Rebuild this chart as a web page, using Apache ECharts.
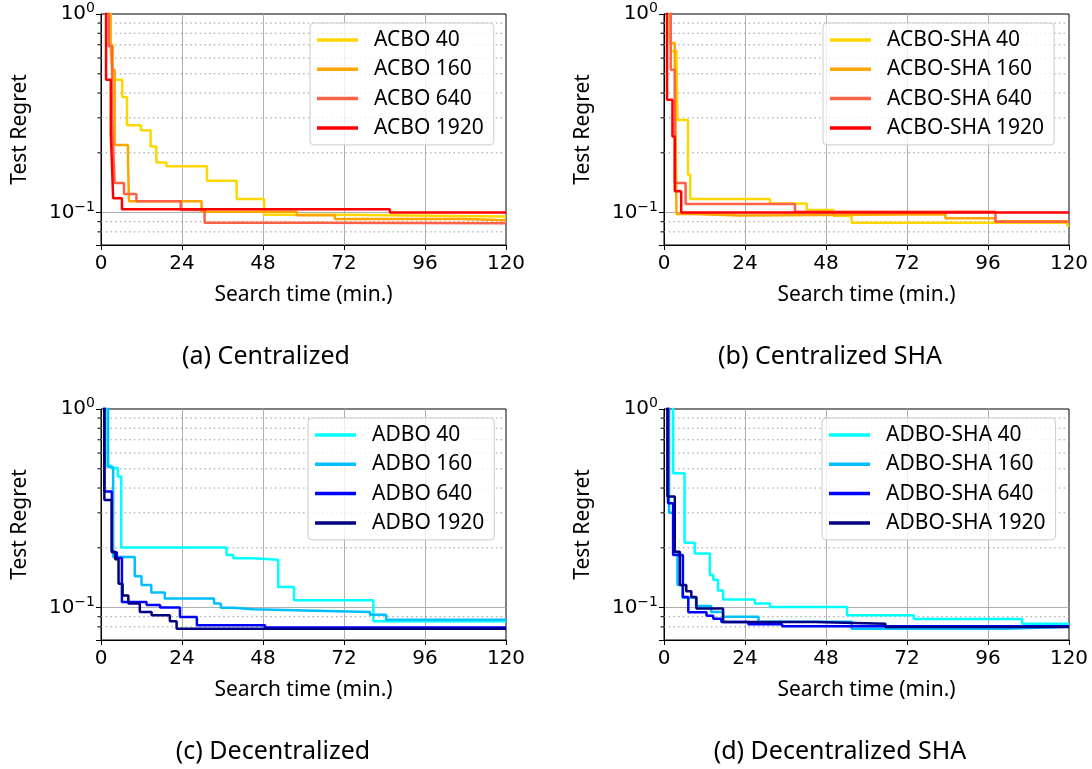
<!DOCTYPE html>
<html>
<head>
<meta charset="utf-8">
<script src="https://cdn.jsdelivr.net/npm/echarts@6/dist/echarts.min.js"></script>
<style>
html, body { margin: 0; padding: 0; background: #fff; }
#main { width: 1092px; height: 769px; }
</style>
</head>
<body>
<div id="main"></div>
<script>
// 坐标轴刻度
const xTicks = [0, 24, 48, 72, 96, 120]
const yMin = 0.0687
const yMax = 1
const minorTicks = [0.08, 0.09, 0.2, 0.3, 0.4, 0.5, 0.6, 0.7, 0.8, 0.9]

const captions = ['(a) Centralized', '(b) Centralized SHA', '(c) Decentralized', '(d) Decentralized SHA']

// (a) ACBO
const namesA = ['ACBO 40', 'ACBO 160', 'ACBO 640', 'ACBO 1920']
const acbo40 = [[0, 1.5], [2.8, 0.7], [3.5, 0.53], [3.85, 0.467], [6.3, 0.382], [7.7, 0.275], [11.8, 0.26], [14.7, 0.215], [16.4, 0.179], [19.4, 0.171], [31.4, 0.1445], [40.2, 0.117], [48.3, 0.0975], [69.8, 0.0955], [120, 0.0955]]
const acbo160 = [[0, 1.5], [2.8, 0.7], [3.3, 0.524], [4.05, 0.219], [8.0, 0.181], [8.3, 0.114], [29.8, 0.101], [58, 0.097], [69.3, 0.093], [107.4, 0.0915], [120, 0.0915]]
const acbo640 = [[0, 1.5], [2.3, 0.69], [3.3, 0.3], [3.8, 0.18], [4.05, 0.141], [6.8, 0.124], [10.5, 0.114], [23.6, 0.103], [30.7, 0.089], [60, 0.0885], [120, 0.088]]
const acbo1920 = [[0, 1.5], [1.5, 0.467], [2.9, 0.25], [3.2, 0.184], [3.6, 0.118], [6.2, 0.104], [85.6, 0.1], [120, 0.1]]

// (b) ACBO-SHA
const namesB = ['ACBO-SHA 40', 'ACBO-SHA 160', 'ACBO-SHA 640', 'ACBO-SHA 1920']
const sha40 = [[0, 1.5], [2.0, 0.65], [3.7, 0.588], [4.0, 0.293], [7.1, 0.155], [7.8, 0.117], [31.4, 0.111], [42.3, 0.103], [50.2, 0.0965], [55.6, 0.089], [119.5, 0.086], [120, 0.086]]
const sha160 = [[0, 1.5], [1.8, 0.714], [3.2, 0.588], [3.7, 0.0985], [8.6, 0.0967], [22.5, 0.098], [83.4, 0.0938], [98.2, 0.0905], [120, 0.0905]]
const sha640 = [[0, 1.5], [2.0, 0.524], [3.2, 0.141], [6.4, 0.1106], [38.8, 0.101], [98.2, 0.09], [120, 0.09]]
const sha1920 = [[0, 1.5], [0.9, 0.37], [2.5, 0.242], [3.2, 0.128], [5.1, 0.1], [120, 0.1]]

// (c) ADBO
const namesC = ['ADBO 40', 'ADBO 160', 'ADBO 640', 'ADBO 1920']
const adbo40 = [[0, 1.5], [1.3, 0.52], [3.0, 0.504], [5.0, 0.457], [6.0, 0.201], [37.2, 0.184], [39.2, 0.177], [45.0, 0.174], [52.5, 0.127], [57.2, 0.109], [80.7, 0.0855], [120, 0.0855]]
const adbo160 = [[0, 1.5], [2.1, 0.51], [3.6, 0.18], [10.0, 0.144], [12.0, 0.13], [14.9, 0.119], [18.9, 0.111], [33.5, 0.105], [35.5, 0.0998], [39.2, 0.098], [45, 0.0965], [63.5, 0.095], [79.7, 0.092], [84.5, 0.087], [120, 0.087]]
const adbo640 = [[0, 1.5], [1.0, 0.384], [3.2, 0.19], [4.7, 0.178], [6.2, 0.1067], [13.5, 0.103], [17.5, 0.1], [23.4, 0.0898], [28.4, 0.0814], [48.6, 0.0795], [120, 0.0795]]
const adbo1920 = [[0, 1.5], [1.0, 0.348], [3.2, 0.191], [4.2, 0.175], [5.2, 0.132], [6.4, 0.115], [8.1, 0.105], [11.5, 0.095], [15.0, 0.0915], [20.4, 0.0855], [22.4, 0.0783], [120, 0.0783]]

// (d) ADBO-SHA
const namesD = ['ADBO-SHA 40', 'ADBO-SHA 160', 'ADBO-SHA 640', 'ADBO-SHA 1920']
const dsha40 = [[0, 1.5], [2.7, 0.475], [6.1, 0.212], [9.1, 0.187], [13.6, 0.146], [14.6, 0.138], [16.0, 0.122], [17.5, 0.11], [26.9, 0.105], [31.4, 0.1007], [54.2, 0.0915], [74, 0.0876], [106.1, 0.083], [120, 0.083]]
const dsha160 = [[0, 1.5], [1.5, 0.3], [3.0, 0.19], [4.0, 0.13], [5.5, 0.112], [9.5, 0.102], [14, 0.095], [17.5, 0.09], [28, 0.085], [55.6, 0.0783], [101.2, 0.08], [120, 0.08]]
const dsha640 = [[0, 1.5], [1.2, 0.335], [2.7, 0.184], [5.6, 0.113], [7.2, 0.0948], [12.6, 0.091], [14.6, 0.088], [17.0, 0.0846], [25, 0.0825], [35, 0.0805], [120, 0.0805]]
const dsha1920 = [[0, 1.5], [1.0, 0.363], [3.2, 0.191], [4.7, 0.13], [6.6, 0.121], [8.1, 0.113], [9.6, 0.099], [17.5, 0.0846], [44.8, 0.083], [65.6, 0.0798], [120, 0.0798]]

const warmColors = ['#ffd700', '#ffa500', '#ff6347', '#ff0000']
const coolColors = ['#00ffff', '#00bfff', '#0000ff', '#000080']

const panels = [
  { names: namesA, data: [acbo40, acbo160, acbo640, acbo1920], colors: warmColors, left: 101, top: 14, legendLeft: 310, legendTop: 23 },
  { names: namesB, data: [sha40, sha160, sha640, sha1920], colors: warmColors, left: 664, top: 14, legendLeft: 823, legendTop: 23 },
  { names: namesC, data: [adbo40, adbo160, adbo640, adbo1920], colors: coolColors, left: 101, top: 409, legendLeft: 308, legendTop: 418 },
  { names: namesD, data: [dsha40, dsha160, dsha640, dsha1920], colors: coolColors, left: 664, top: 409, legendLeft: 822, legendTop: 418 },
]
const captionPos = [[266, 357], [830, 357], [273, 752], [840, 752]]

const gridW = 405
const gridH = 231

const chart = echarts.init(document.getElementById('main'))

const grid = []
const xAxis = []
const yAxis = []
const legend = []
const series = []

panels.forEach((p, i) => {
  grid.push({
    left: p.left,
    top: p.top,
    width: gridW,
    height: gridH,
    show: true,
    borderColor: '#000',
    borderWidth: 1,
    backgroundColor: 'transparent',
  })
  xAxis.push({
    gridIndex: i,
    type: 'value',
    min: xTicks[0],
    max: xTicks[xTicks.length - 1],
    interval: 24,
    name: 'Search time (min.)',
    nameLocation: 'middle',
    nameGap: 40,
    nameTextStyle: { fontFamily: 'Noto Sans', fontSize: 21, color: '#000' },
    axisLine: { show: true, lineStyle: { color: '#000', width: 1 } },
    axisTick: { show: true, length: 5, lineStyle: { color: '#000' } },
    axisLabel: { fontFamily: 'DejaVu Sans', fontSize: 20, color: '#000', margin: 9 },
    splitLine: { show: true, showMinLine: false, showMaxLine: false, lineStyle: { color: '#b0b0b0', width: 1 } },
  })
  yAxis.push({
    gridIndex: i,
    type: 'log',
    logBase: 10,
    min: yMin,
    max: yMax,
    name: 'Test Regret',
    nameLocation: 'middle',
    nameGap: 70,
    nameTextStyle: { fontFamily: 'Noto Sans', fontSize: 21, color: '#000' },
    axisLine: { show: true, lineStyle: { color: '#000', width: 1 } },
    axisTick: { show: true, length: 5, lineStyle: { color: '#000' } },
    axisLabel: {
      fontFamily: 'DejaVu Sans',
      fontSize: 20,
      color: '#000',
      margin: 6,
      formatter: v => {
        const lg = Math.log10(v)
        const e = Math.round(lg)
        if (Math.abs(lg - e) > 1e-6) return ''
        return '10{s|' + (e < 0 ? '\u2212' + (-e) : e) + '}'
      },
      rich: {
        s: { fontFamily: 'DejaVu Sans', fontSize: 14, color: '#000', padding: [0, 0, 11, 0] },
      },
    },
    splitLine: { show: true, showMinLine: false, showMaxLine: false, lineStyle: { color: '#b0b0b0', width: 1 } },
  })
  legend.push({
    left: p.legendLeft,
    top: p.legendTop,
    orient: 'vertical',
    data: p.names,
    selectedMode: false,
    icon: 'rect',
    itemWidth: 41,
    itemHeight: 3.5,
    itemGap: 7.3,
    padding: [6, 10, 6, 7],
    backgroundColor: 'rgba(255,255,255,0.8)',
    borderColor: '#cccccc',
    borderWidth: 1,
    borderRadius: 4,
    textStyle: { fontFamily: 'Noto Sans', fontSize: 21, color: '#000', lineHeight: 22, padding: [0, 0, 0, 11] },
  })
  // 次刻度虚线网格
  series.push({
    type: 'custom',
    name: 'minor' + i,
    xAxisIndex: i,
    yAxisIndex: i,
    silent: true,
    z: 1,
    data: minorTicks.map(v => [xTicks[0], v]),
    encode: { x: 0, y: 1 },
    renderItem: (params, api) => {
      const v = api.value(1)
      const p0 = api.coord([xTicks[0], v])
      const p1 = api.coord([xTicks[xTicks.length - 1], v])
      return {
        type: 'group',
        children: [
          { type: 'line', shape: { x1: p0[0], y1: p0[1], x2: p1[0], y2: p1[1] }, style: { stroke: '#999', lineWidth: 1, lineDash: [1.5, 3.2] } },
          { type: 'line', shape: { x1: p0[0] - 3.5, y1: p0[1], x2: p0[0], y2: p0[1] }, style: { stroke: '#000', lineWidth: 1 } },
        ],
      }
    },
  })
  p.names.forEach((name, k) => {
    series.push({
      type: 'line',
      name: name,
      xAxisIndex: i,
      yAxisIndex: i,
      step: 'end',
      symbol: 'none',
      clip: true,
      z: 3,
      color: p.colors[k],
      lineStyle: { color: p.colors[k], width: 2.5 },
      data: p.data[k],
    })
  })
})

const graphic = captions.map((text, i) => ({
  type: 'text',
  x: captionPos[i][0],
  y: captionPos[i][1],
  style: { text: text, fontFamily: 'Noto Sans', fontSize: 25, fill: '#000', align: 'center', verticalAlign: 'middle' },
}))

chart.setOption({
  backgroundColor: '#fff',
  animation: false,
  grid,
  xAxis,
  yAxis,
  legend,
  series,
  graphic,
})
</script>
</body>
</html>
